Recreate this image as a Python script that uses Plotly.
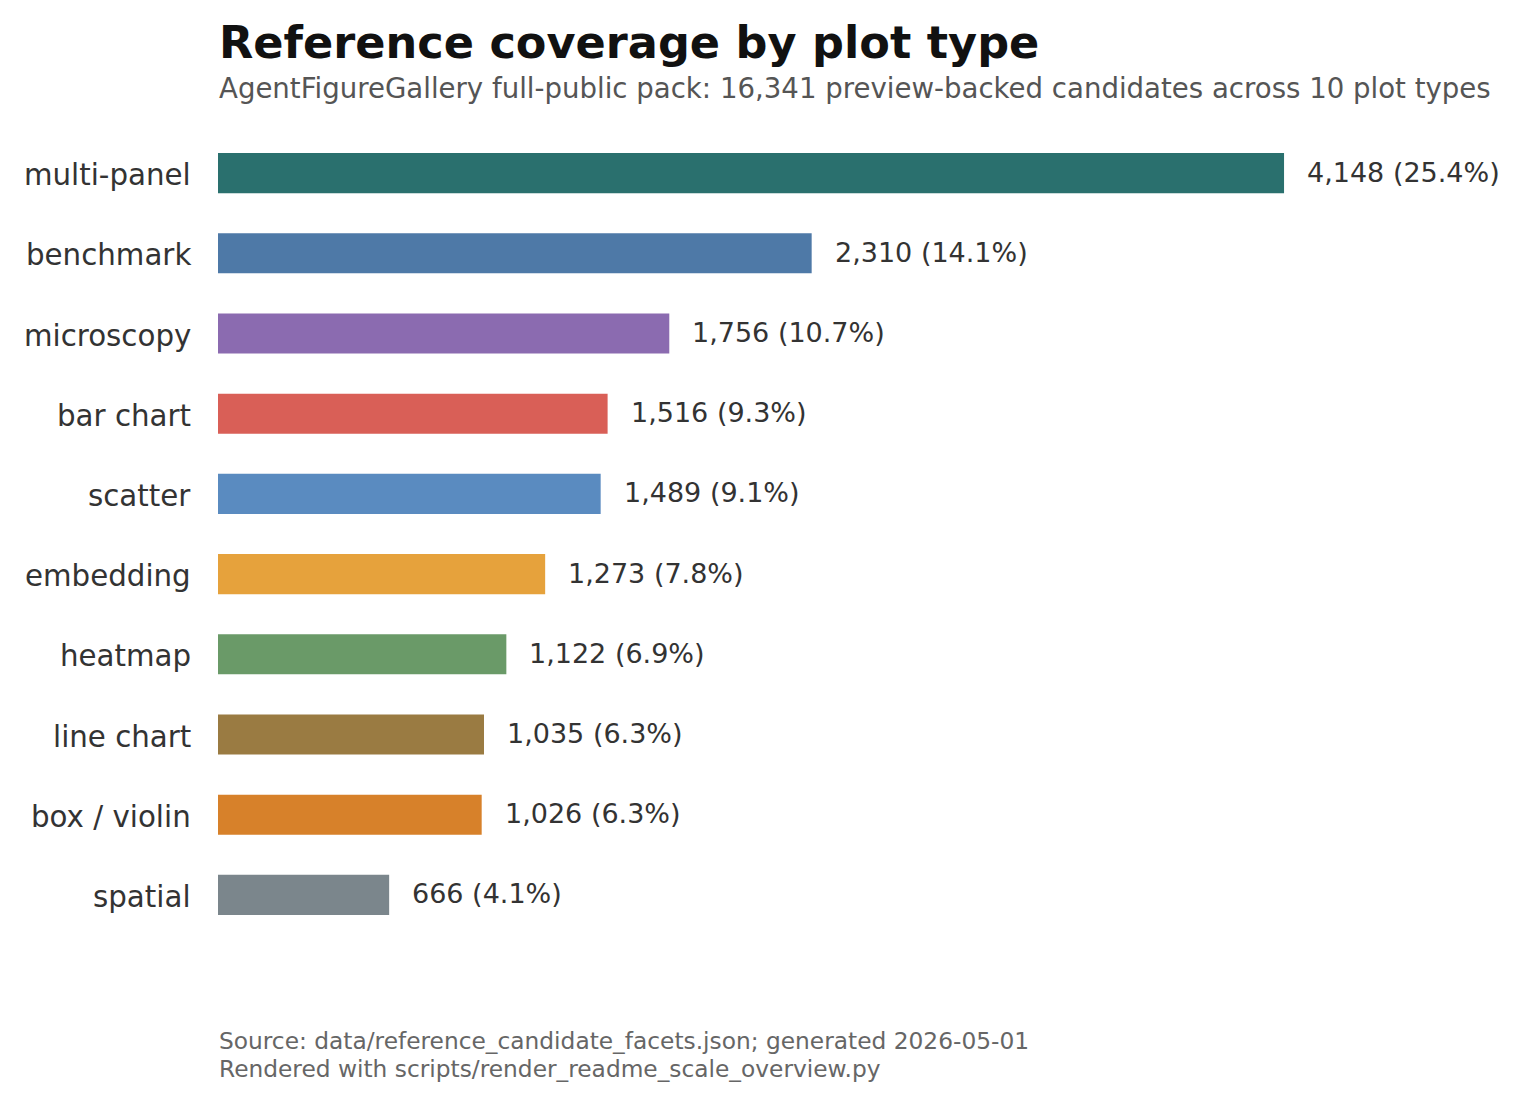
import plotly.graph_objects as go

# plot types, sorted by count (largest first)
plot_types = ["multi-panel", "benchmark", "microscopy", "bar chart", "scatter",
              "embedding", "heatmap", "line chart", "box / violin", "spatial"]
counts = [4148, 2310, 1756, 1516, 1489, 1273, 1122, 1035, 1026, 666]
bar_colors = ["#2a706e", "#4e79a7", "#8b6bb0", "#d95f57", "#5a8bc0",
              "#e6a23c", "#6a9a68", "#9a7b42", "#d7812a", "#7b868c"]

total = 16341
labels = [f"{c:,} ({c / total * 100:.1f}%)" for c in counts]

title_text = "Reference coverage by plot type"
subtitle_text = ("AgentFigureGallery full-public pack: 16,341 preview-backed "
                 "candidates across 10 plot types")
footer_lines = ["Source: data/reference_candidate_facets.json; generated 2026-05-01",
                "Rendered with scripts/render_readme_scale_overview.py"]

FONT = "DejaVu Sans"

fig = go.Figure()

fig.add_trace(go.Bar(
    x=counts,
    y=plot_types,
    orientation="h",
    marker=dict(color=bar_colors, line=dict(width=0)),
    width=0.5,
    hoverinfo="skip",
))

# value labels to the right of each bar
for t, c, lab in zip(plot_types, counts, labels):
    fig.add_annotation(
        x=c, y=t, text=lab, showarrow=False,
        xanchor="left", yanchor="middle", xshift=21, yshift=1,
        font=dict(family=FONT, size=27, color="#333333"),
    )

# category labels (drawn as annotations so they sit like the original)
for t in plot_types:
    fig.add_annotation(
        x=0, y=t, xref="paper", text=t, showarrow=False,
        xanchor="right", yanchor="middle", xshift=-25, yshift=-2,
        font=dict(family=FONT, size=29.3, color="#333333"),
    )

fig.add_annotation(
    x=0, y=1.112, xref="paper", yref="paper",
    text=f"<b>{title_text}</b>", showarrow=False,
    xanchor="left", yanchor="middle", xshift=-1,
    font=dict(family=FONT, size=44.6, color="#111111"),
)
fig.add_annotation(
    x=0, y=1.0555, xref="paper", yref="paper",
    text=subtitle_text, showarrow=False,
    xanchor="left", yanchor="middle", xshift=-1,
    font=dict(family=FONT, size=27.6, color="#555555"),
)
for yy, line in zip([-0.131, -0.167], footer_lines):
    fig.add_annotation(
        x=0, y=yy, xref="paper", yref="paper",
        text=line, showarrow=False,
        xanchor="left", yanchor="middle", xshift=-1,
        font=dict(family=FONT, size=23.3, color="#666666"),
    )

fig.update_xaxes(
    range=[0, 5000],
    showgrid=False, zeroline=False, showline=False,
    showticklabels=False, ticks="",
)
fig.update_yaxes(
    range=[9.5, -0.5],
    showgrid=False, zeroline=False, showline=False,
    ticks="", showticklabels=False,
)

fig.update_layout(
    width=1525, height=1105,
    margin=dict(l=210, r=30, t=125, b=178),
    paper_bgcolor="white", plot_bgcolor="white",
    showlegend=False,
    font=dict(family=FONT),
)

fig.write_html("out.html")
